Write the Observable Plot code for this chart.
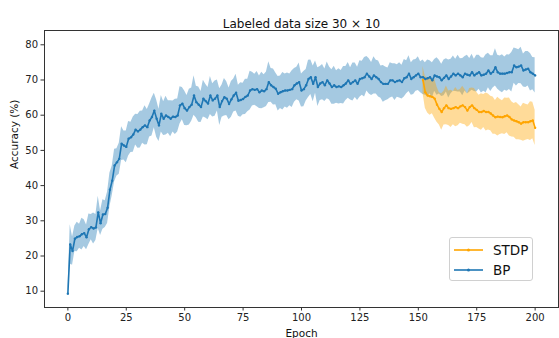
<!DOCTYPE html>
<html>
<head>
<meta charset="utf-8">
<script src="https://cdn.jsdelivr.net/npm/d3@7"></script>
<script src="https://cdn.jsdelivr.net/npm/@observablehq/plot@0.6"></script>
<style>
  html, body { margin: 0; padding: 0; background: #fff; }
  #wrap { position: relative; width: 559px; height: 338px; font-family: "DejaVu Sans", sans-serif; overflow: hidden; }
  #legend { position: absolute; left: 449px; top: 237px; width: 84px; height: 44px; border: 1px solid #d0d0d0; border-radius: 3px; background: rgba(255,255,255,0.8); box-sizing: border-box; font-size: 13.5px; color: #111; }
  .li { position: absolute; left: 4px; height: 16px; display: flex; align-items: center; }
  .li svg { margin-right: 10px; }
</style>
</head>
<body>
<div id="wrap"></div>
<script>
const title = "Labeled data size 30 \u00d7 10";
const xLabel = "Epoch";
const yLabel = "Accuracy (%)";
const xTicks = [0, 25, 50, 75, 100, 125, 150, 175, 200];
const yTicks = [10, 20, 30, 40, 50, 60, 70, 80];
const seriesNames = ["STDP", "BP"];

// BP mean accuracy, epochs 0..200
const bpMean = [
  9.3, 23.3, 21.4, 24.9, 25.4, 25.6, 26.2, 26.5, 25.3, 27.6,
  28.2, 27.8, 28.1, 32.4, 29.3, 31.8, 31.9, 33.7, 38.8, 41.4,
  45.7, 46.6, 47.6, 51.9, 51.4, 51.0, 53.3, 53.7, 54.5, 55.9,
  55.4, 55.9, 56.6, 57.1, 56.6, 58.5, 59.5, 61.3, 59.0, 57.1,
  60.4, 59.0, 59.9, 59.5, 59.0, 59.6, 59.5, 59.9, 62.8, 63.3,
  62.0, 61.3, 62.3, 63.0, 65.6, 63.7, 63.0, 62.3, 64.7, 64.0,
  63.3, 65.6, 64.2, 64.7, 65.6, 62.3, 64.0, 65.1, 64.7, 63.2,
  64.5, 65.6, 66.4, 64.1, 64.3, 64.6, 65.2, 65.6, 67.0, 67.4,
  67.2, 67.4, 66.5, 67.0, 66.8, 67.4, 69.4, 68.5, 68.0, 67.5,
  66.1, 66.5, 66.8, 67.0, 67.0, 67.2, 67.4, 68.5, 69.0, 69.4,
  67.0, 67.4, 68.5, 70.3, 70.8, 68.9, 70.8, 68.0, 69.0, 69.4,
  68.5, 69.9, 69.0, 68.0, 68.5, 68.0, 68.2, 68.0, 68.5, 69.0,
  69.9, 68.9, 69.4, 69.9, 68.9, 70.3, 70.5, 70.8, 71.8, 71.0,
  70.3, 71.3, 70.8, 70.3, 69.4, 68.9, 68.9, 68.9, 69.9, 69.9,
  69.4, 69.7, 69.9, 69.4, 70.5, 70.8, 71.8, 70.3, 70.8, 71.3,
  71.8, 70.8, 70.8, 70.3, 70.5, 70.8, 69.9, 71.3, 71.0, 70.8,
  69.9, 70.6, 71.3, 70.3, 71.0, 71.8, 71.3, 71.8, 71.3, 70.8,
  71.8, 71.5, 71.3, 72.2, 71.3, 71.8, 72.2, 71.3, 71.5, 71.8,
  72.7, 71.8, 72.3, 73.6, 72.2, 71.8, 71.8, 71.8, 72.0, 72.2,
  72.2, 74.1, 73.6, 73.8, 74.1, 72.7, 73.0, 73.2, 72.2, 71.8,
  71.3
];
// BP spread (half-width of shaded band), epochs 0..200
const bpStd = [
  0.3, 5.6, 4.0, 3.6, 4.2, 3.4, 4.5, 3.8, 3.5, 4.3,
  3.6, 4.4, 3.7, 4.6, 3.5, 4.2, 3.8, 4.5, 4.8, 4.2,
  4.6, 3.9, 4.4, 4.8, 4.1, 4.5, 4.9, 4.3, 5.0, 4.4,
  4.8, 5.2, 4.6, 5.6, 5.0, 4.7, 5.4, 4.9, 5.3, 4.6,
  5.2, 4.8, 5.5, 4.6, 5.1, 4.4, 5.0, 4.7, 5.3, 4.6,
  4.9, 4.3, 5.1, 4.7, 5.6, 4.5, 5.0, 4.4, 5.2, 4.8,
  4.6, 5.4, 4.7, 5.0, 4.4, 5.2, 4.6, 5.3, 4.8, 4.5,
  5.1, 4.7, 5.2, 4.4, 4.9, 4.5, 5.0, 4.6, 5.5, 4.8,
  4.4, 5.0, 4.6, 5.2, 4.7, 4.9, 5.8, 4.8, 5.1, 4.5,
  4.9, 4.6, 5.3, 4.7, 5.0, 4.5, 5.2, 4.8, 4.6, 5.4,
  4.7, 5.0, 4.5, 5.3, 4.9, 5.1, 4.6, 5.5, 4.8, 5.0,
  4.6, 5.2, 4.7, 4.9, 5.4, 4.6, 5.0, 4.7, 5.3, 4.8,
  5.1, 4.6, 5.4, 4.9, 4.7, 5.2, 4.8, 5.6, 4.9, 5.0,
  4.7, 5.3, 4.8, 5.1, 4.6, 5.2, 4.8, 4.5, 5.0, 4.7,
  5.2, 4.6, 5.0, 4.8, 5.3, 4.7, 5.1, 4.6, 4.9, 4.5,
  4.8, 4.4, 4.9, 4.6, 5.2, 4.7, 5.0, 4.5, 5.3, 4.8,
  4.6, 5.1, 4.7, 5.4, 4.9, 5.0, 4.6, 5.2, 4.7, 5.3,
  4.9, 5.5, 4.8, 5.1, 4.6, 5.2, 4.8, 5.0, 4.7, 5.4,
  4.9, 5.1, 4.6, 5.3, 4.8, 5.0, 5.4, 4.7, 5.2, 4.9,
  5.6, 5.0, 5.3, 4.8, 5.2, 4.7, 5.1, 4.9, 5.3, 4.6,
  5.0
];
// STDP starts at epoch 152
const stdpStart = 152;
const stdpMean = [
  70.0, 66.5, 65.6, 65.4, 65.2, 64.7, 63.0, 61.8, 60.9, 62.0,
  62.8, 62.0, 61.8, 62.0, 62.3, 62.0, 62.5, 62.8, 62.3, 61.3,
  62.3, 62.8, 62.0, 61.5, 60.9, 60.9, 61.2, 60.9, 60.9, 60.5,
  59.9, 59.4, 59.6, 59.5, 59.4, 59.7, 59.9, 59.5, 58.8, 58.5,
  58.3, 58.0, 57.6, 58.0, 58.0, 58.0, 58.3, 58.5, 56.4
];
const stdpStd = [
  3.8, 4.5, 5.0, 5.4, 4.8, 5.6, 5.0, 4.6, 5.2, 4.8,
  5.5, 4.9, 5.3, 4.7, 5.6, 5.0, 4.8, 5.4, 5.0, 4.7,
  5.3, 4.9, 5.6, 5.0, 4.8, 5.2, 4.7, 5.4, 5.1, 4.9,
  5.3, 4.8, 5.5, 5.0, 4.7, 5.2, 4.9, 5.4, 5.0, 4.8,
  5.3, 5.0, 4.7, 5.4, 5.1, 4.9, 5.5, 5.2, 5.0
];

const blue = "#1f77b4";
const orange = "#ffa500";

const bp = bpMean.map((v, i) => ({epoch: i, mean: v, lo: v - bpStd[i], hi: v + bpStd[i]}));
const stdp = stdpMean.map((v, i) => ({epoch: stdpStart + i, mean: v, lo: v - stdpStd[i], hi: v + stdpStd[i]}));

const font = "DejaVu Sans, sans-serif";

const chart = Plot.plot({
  width: 559,
  height: 338,
  marginLeft: 44,
  marginRight: 1,
  marginTop: 30,
  marginBottom: 31,
  style: {fontFamily: font, fontSize: "10px", color: "#222", background: "#fff"},
  x: {domain: [-10, 210]},
  y: {domain: [5.37, 84.06]},
  marks: [
    Plot.areaY(bp, {x: "epoch", y1: "lo", y2: "hi", fill: blue, fillOpacity: 0.4}),
    Plot.areaY(stdp, {x: "epoch", y1: "lo", y2: "hi", fill: orange, fillOpacity: 0.4}),
    Plot.line(stdp, {x: "epoch", y: "mean", stroke: orange, strokeWidth: 1.6}),
    Plot.dot(stdp, {x: "epoch", y: "mean", fill: orange, r: 1.2}),
    Plot.line(bp, {x: "epoch", y: "mean", stroke: blue, strokeWidth: 1.6}),
    Plot.dot(bp, {x: "epoch", y: "mean", fill: blue, r: 1.2}),
    Plot.axisX({ticks: xTicks, tickSize: 3.5, tickPadding: 3, label: null, fontSize: 10, stroke: "#333"}),
    Plot.axisY({ticks: yTicks, tickSize: 3.5, tickPadding: 3, label: null, fontSize: 10, stroke: "#333"}),
    Plot.frame({stroke: "#333", strokeWidth: 1}),
    Plot.text([title], {frameAnchor: "top", dy: -11, fontSize: 12, fill: "#111"}),
    Plot.text([xLabel], {frameAnchor: "bottom", lineAnchor: "top", dy: 22, fontSize: 10.5, fill: "#111"}),
    Plot.text([yLabel], {frameAnchor: "left", rotate: -90, dx: -30, fontSize: 10.5, fill: "#111"})
  ]
});

const wrap = document.getElementById("wrap");
wrap.appendChild(chart);

const legend = document.createElement("div");
legend.id = "legend";
const colors = [orange, blue];
seriesNames.forEach((name, i) => {
  const row = document.createElement("div");
  row.className = "li";
  row.style.top = (4 + i * 20) + "px";
  row.innerHTML = `<svg width="29" height="8"><line x1="0" y1="4" x2="29" y2="4" stroke="${colors[i]}" stroke-width="1.6"/><circle cx="14.5" cy="4" r="1.5" fill="${colors[i]}"/></svg><span>${name}</span>`;
  legend.appendChild(row);
});
wrap.appendChild(legend);
</script>
</body>
</html>
